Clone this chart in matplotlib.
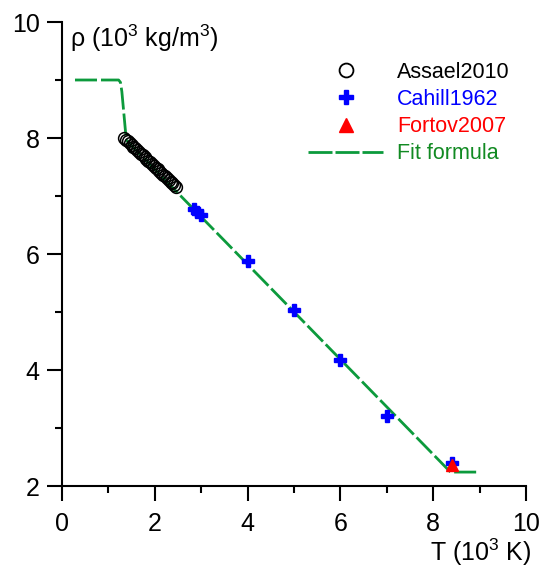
import matplotlib
matplotlib.use("Agg")
import matplotlib.pyplot as plt
from matplotlib.lines import Line2D

plt.rcParams['font.family'] = ['Liberation Sans', 'DejaVu Sans']
plt.rcParams['mathtext.fontset'] = 'custom'
plt.rcParams['mathtext.rm'] = 'Liberation Sans'
plt.rcParams['mathtext.it'] = 'Liberation Sans:italic'

# Data (T in 10^3 K, rho in 10^3 kg/m^3)
assael_T = [1.34, 1.38, 1.42, 1.46, 1.50, 1.54, 1.58, 1.62, 1.66, 1.70,
            1.74, 1.78, 1.82, 1.86, 1.90, 1.94, 1.98, 2.02, 2.06, 2.10,
            2.14, 2.18, 2.22, 2.26, 2.30, 2.34, 2.38, 2.42, 2.46]
assael_rho = [8.00, 7.97, 7.94, 7.91, 7.88, 7.85, 7.82, 7.79, 7.76, 7.73,
              7.70, 7.67, 7.64, 7.61, 7.58, 7.55, 7.52, 7.49, 7.46, 7.43,
              7.40, 7.37, 7.34, 7.31, 7.28, 7.25, 7.22, 7.19, 7.16]

cahill_T = [2.85, 2.92, 3.00, 4.00, 5.00, 6.00, 7.00, 8.40]
cahill_rho = [6.78, 6.73, 6.68, 5.88, 5.03, 4.17, 3.21, 2.40]

fortov_T = [8.40]
fortov_rho = [2.37]

fit_T = [0.28, 1.22, 1.26, 1.29, 1.33, 1.37, 1.40, 8.36, 8.44, 8.95]
fit_rho = [9.00, 9.00, 8.96, 8.80, 8.45, 8.10, 7.95, 2.25, 2.24, 2.24]

xticks = [0, 2, 4, 6, 8, 10]
yticks = [2, 4, 6, 8, 10]

W, H = 542, 569
fig = plt.figure(figsize=(W / 100, H / 100), dpi=100)
ax = fig.add_axes([62 / W, 1 - 486 / H, (526 - 62) / W, (486 - 22) / H])

green = '#0c9a3c'
lw = 2.0
dash = (0, (22 * 0.72 / lw, 4 * 0.72 / lw))

ax.plot(fit_T, fit_rho, color=green, lw=lw, linestyle=dash, zorder=2,
        clip_on=False)
ax.plot(assael_T, assael_rho, linestyle='none', marker='o', ms=8.5,
        mfc='none', mec='black', mew=1.1, zorder=3, clip_on=False)
ax.plot(cahill_T, cahill_rho, linestyle='none', marker='P', ms=9,
        color='#0000ff', mec='#0000ff', zorder=4, clip_on=False)
ax.plot(fortov_T, fortov_rho, linestyle='none', marker='^', ms=9,
        color='#ff0000', mec='#ff0000', zorder=5, clip_on=False)

ax.set_xlim(0, 10)
ax.set_ylim(2, 10)
ax.set_xticks(xticks)
ax.set_yticks(yticks)
ax.set_xticks([1, 3, 5, 7, 9], minor=True)
ax.set_yticks([3, 5, 7, 9], minor=True)

for s in ['top', 'right']:
    ax.spines[s].set_visible(False)
for s in ['left', 'bottom']:
    ax.spines[s].set_linewidth(1.5)

ax.tick_params(which='major', direction='out', length=11, width=1.5,
               labelsize=18, colors='black')
ax.tick_params(which='minor', direction='out', length=5, width=1.5)
ax.tick_params(axis='x', which='major', pad=8)
ax.tick_params(axis='y', which='major', pad=5)

fig.text(70 / W, 1 - 38 / H, r'ρ (10$^3$ kg/m$^3$)', fontsize=18,
         ha='left', va='center')
fig.text(532 / W, 1 - 552 / H, r'T (10$^3$ K)', fontsize=18,
         ha='right', va='center')

handles = [
    Line2D([], [], linestyle='none', marker='o', ms=10, mfc='none',
           mec='black', mew=1.3),
    Line2D([], [], linestyle='none', marker='P', ms=10, color='#0000ff'),
    Line2D([], [], linestyle='none', marker='^', ms=10, color='#ff0000'),
    Line2D([], [], color=green, lw=2.0,
           linestyle=(0, (24 * 0.72 / 2.0, 3 * 0.72 / 2.0))),
]
labels = ['Assael2010', 'Cahill1962', 'Fortov2007', 'Fit formula']
leg = fig.legend(handles, labels, loc='upper left',
                 bbox_to_anchor=(308 / W, 1 - 62 / H), frameon=False,
                 fontsize=15.5, handlelength=3.5, handletextpad=0.65,
                 borderpad=0, borderaxespad=0, labelspacing=0.28)
for t, c in zip(leg.get_texts(), ['black', '#0000ff', '#ff0000', '#118a22']):
    t.set_color(c)

fig.savefig('out.png', dpi=100)
